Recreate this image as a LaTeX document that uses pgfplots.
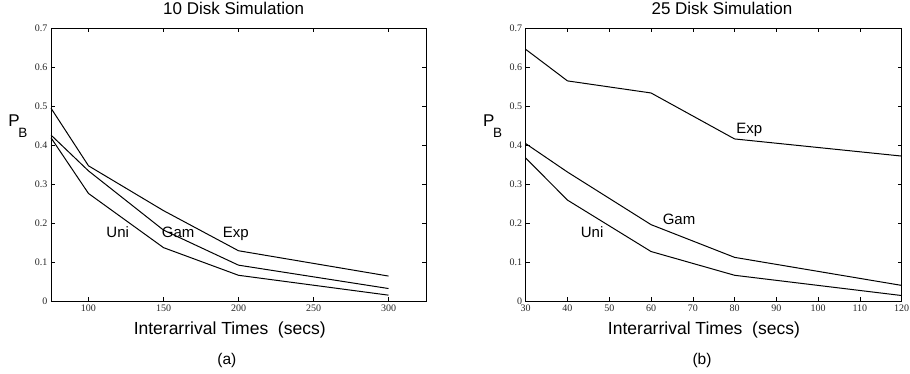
\documentclass[border=0pt]{standalone}
\usepackage{pgfplots}
\pgfplotsset{compat=1.18}
\usepackage{fontspec}
\setmainfont{Liberation Sans}
\newfontfamily\tickfont{Liberation Serif}
\tikzset{lab/.style={anchor=base, font=\fontsize{15}{15}\selectfont},
  cur/.style={black, line width=1pt, mark=none, line join=round}}
\begin{document}
\begin{tikzpicture}
\useasboundingbox (0,0) rectangle (910pt,374pt);
\pgfplotsset{
  myax/.style={
    scale only axis, width=375pt, height=272.7pt,
    anchor=south west,
    ymin=0, ymax=0.7,
    ytick={0,0.1,0.2,0.3,0.4,0.5,0.6,0.7},
    yticklabels={0,0.1,0.2,0.3,0.4,0.5,0.6,0.7},
    tick align=inside,
    major tick length=4pt,
    tick style={black, line width=0.6pt},
    axis line style={line width=0.8pt},
    ticklabel style={font=\tickfont\fontsize{10}{10}\selectfont, text=black!85},
    /pgf/number format/assume math mode=true,
    xlabel style={anchor=base, font=\fontsize{17.5}{17.5}\selectfont},
    clip=false,
  },
}
% ---------- (a) ----------
\begin{axis}[myax, at={(51pt,73pt)},
  xmin=75, xmax=325, xtick={100,150,200,250,300},
  xlabel={Interarrival Times\ \ (secs)},
  xlabel style={at={(axis description cs:0.4765,0)}, yshift=-34pt},
]
\addplot[cur] coordinates {(75,0.495) (100,0.347) (150,0.232) (200,0.129) (300,0.064)};
\addplot[cur] coordinates {(75,0.426) (100,0.334) (150,0.182) (200,0.092) (300,0.032)};
\addplot[cur] coordinates {(75,0.419) (100,0.276) (150,0.137) (200,0.066) (300,0.015)};
\node[lab] at (axis cs:119.5,0.162) {Uni};
\node[lab] at (axis cs:159.8,0.162) {Gam};
\node[lab] at (axis cs:198.2,0.162) {Exp};
\node[anchor=base, inner sep=0pt, font=\fontsize{17}{17}\selectfont]
  at ([yshift=14pt]axis description cs:0.487,1) {10 Disk Simulation};
\node[anchor=base west, inner sep=0pt, font=\fontsize{17}{17}\selectfont]
  at ([xshift=-42.7pt]axis description cs:0,0.639) {P\kern-1.5pt\raisebox{-11pt}{\fontsize{13.5}{13.5}\selectfont B}};
\node[anchor=base, font=\fontsize{15.5}{15.5}\selectfont]
  at ([yshift=-64pt]axis description cs:0.469,0) {(a)};
\end{axis}
% ---------- (b) ----------
\begin{axis}[myax, at={(525.7pt,73pt)}, width=376pt,
  xmin=30, xmax=120, xtick={30,40,50,60,70,80,90,100,110,120},
  xlabel={Interarrival Times\ \ (secs)},
  xlabel style={at={(axis description cs:0.474,0)}, yshift=-34pt},
]
\addplot[cur] coordinates {(30,0.646) (40,0.565) (60,0.534) (80,0.416) (120,0.372)};
\addplot[cur] coordinates {(30,0.404) (40,0.331) (60,0.196) (80,0.112) (120,0.040)};
\addplot[cur] coordinates {(30,0.367) (40,0.259) (60,0.127) (80,0.066) (120,0.014)};
\node[lab] at (axis cs:83.5,0.43) {Exp};
\node[lab] at (axis cs:66.7,0.196) {Gam};
\node[lab] at (axis cs:45.9,0.164) {Uni};
\node[anchor=base, inner sep=0pt, font=\fontsize{17}{17}\selectfont]
  at ([yshift=14pt]axis description cs:0.522,1) {25 Disk Simulation};
\node[anchor=base west, inner sep=0pt, font=\fontsize{17}{17}\selectfont]
  at ([xshift=-42.7pt]axis description cs:0,0.639) {P\kern-1.5pt\raisebox{-11pt}{\fontsize{13.5}{13.5}\selectfont B}};
\node[anchor=base, font=\fontsize{15.5}{15.5}\selectfont]
  at ([yshift=-64pt]axis description cs:0.469,0) {(b)};
\end{axis}
\end{tikzpicture}
\end{document}
